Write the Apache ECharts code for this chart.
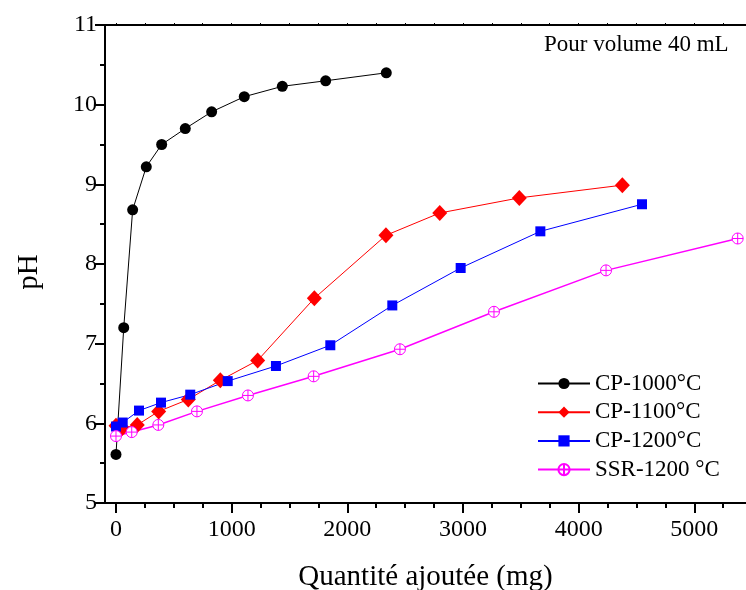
<!DOCTYPE html>
<html>
<head>
<meta charset="utf-8">
<script src="https://cdn.jsdelivr.net/npm/echarts@6/dist/echarts.min.js"></script>
<style>
html,body{margin:0;padding:0;background:#fff;}
#chart{width:746px;height:590px;}
</style>
</head>
<body>
<div id="chart"></div>
<script>
// ---- data ----
const seriesNames = ['CP-1000°C', 'CP-1100°C', 'CP-1200°C', 'SSR-1200 °C'];

const cp1000X = [0, 67, 144, 262, 395, 599, 827, 1109, 1438, 1813, 2337];
const cp1000Y = [5.61, 7.20, 8.68, 9.22, 9.50, 9.70, 9.91, 10.10, 10.23, 10.30, 10.40];

const cp1100X = [0, 55, 184, 369, 625, 902, 1225, 1715, 2334, 2799, 3487, 4378];
const cp1100Y = [5.97, 5.94, 5.98, 6.15, 6.30, 6.54, 6.79, 7.57, 8.36, 8.64, 8.83, 8.99];

const cp1200X = [0, 58, 199, 389, 642, 966, 1383, 1853, 2389, 2980, 3669, 4548];
const cp1200Y = [5.96, 6.01, 6.16, 6.26, 6.36, 6.53, 6.72, 6.98, 7.48, 7.95, 8.41, 8.75];

const ssrX = [0, 136, 366, 700, 1141, 1709, 2455, 3268, 4237, 5375];
const ssrY = [5.84, 5.89, 5.98, 6.15, 6.35, 6.59, 6.93, 7.40, 7.92, 8.32];

const xTickValues = [0, 1000, 2000, 3000, 4000, 5000];
const yTickValues = [5, 6, 7, 8, 9, 10, 11];

const xTitle = 'Quantité ajoutée (mg)';
const yTitle = 'pH';
const noteText = 'Pour volume 40 mL';

// ---- chart ----
const FONT = '"Liberation Serif", "Times New Roman", serif';
const pair = (xs, ys) => xs.map((x, i) => [x, ys[i]]);
const circlePlus = 'path://M-10,0 A10,10 0 1,0 10,0 A10,10 0 1,0 -10,0 Z M0,-10 L0,10 M-10,0 L10,0';

const chart = echarts.init(document.getElementById('chart'), null, {renderer: 'canvas'});
const axisLineStyle = {color: '#000', width: 2};

chart.setOption({
  animation: false,
  backgroundColor: '#fff',
  grid: {left: 105, top: 25, right: 0, bottom: 87, containLabel: false, outerBoundsMode: 'none'},
  xAxis: [{
    type: 'value', position: 'bottom', min: -95, max: 5447, splitNumber: 5,
    axisLine: {show: true, onZero: false, lineStyle: axisLineStyle},
    axisTick: {show: true, inside: false, length: 10, lineStyle: {color: '#000', width: 2}, customValues: xTickValues},
    minorTick: {show: true, splitNumber: 4, length: 5, lineStyle: {color: '#000', width: 2}},
    splitLine: {show: false},
    axisLabel: {customValues: xTickValues, formatter: v => String(v), fontFamily: FONT, fontSize: 24, color: '#000', margin: 15},
    name: xTitle, nameLocation: 'middle', nameGap: 60,
    nameTextStyle: {fontFamily: FONT, fontSize: 29, color: '#000'}
  }, {
    type: 'value', position: 'top', min: -95, max: 5447, splitNumber: 5,
    axisLine: {show: true, onZero: false, lineStyle: axisLineStyle},
    axisTick: {show: true, inside: false, length: 2, lineStyle: {color: '#000', width: 1}, customValues: xTickValues},
    minorTick: {show: true, splitNumber: 4, length: 2, lineStyle: {color: '#000', width: 1}},
    splitLine: {show: false},
    axisLabel: {show: false}
  }],
  yAxis: {
    type: 'value', min: 5, max: 11, interval: 1,
    axisLine: {show: true, onZero: false, lineStyle: axisLineStyle},
    axisTick: {show: true, inside: false, length: 10, lineStyle: {color: '#000', width: 2}},
    minorTick: {show: true, splitNumber: 2, length: 5, lineStyle: {color: '#000', width: 2}},
    splitLine: {show: false},
    axisLabel: {customValues: yTickValues, fontFamily: FONT, fontSize: 24, color: '#000', margin: 8}
  },
  legend: {
    left: 537, top: 372, orient: 'vertical', padding: 0,
    itemWidth: 52, itemHeight: 14, itemGap: 5.7,
    textStyle: {fontFamily: FONT, fontSize: 23, lineHeight: 23, color: '#000'},
    data: seriesNames
  },
  graphic: [
    {type: 'text', left: 544, top: 33, style: {text: noteText, font: '23px ' + FONT, fill: '#000'}},
    {type: 'text', x: 29, y: 272, rotation: Math.PI / 2,
     style: {text: yTitle, font: '29px ' + FONT, fill: '#000', align: 'center', verticalAlign: 'middle'}}
  ],
  series: [
    {name: seriesNames[0], type: 'line', data: pair(cp1000X, cp1000Y),
     symbol: 'circle', symbolSize: 11, color: '#000',
     lineStyle: {width: 1, color: '#000'}, itemStyle: {color: '#000'}},
    {name: seriesNames[1], type: 'line', data: pair(cp1100X, cp1100Y),
     symbol: 'diamond', symbolSize: [15, 16], color: '#ff0000',
     lineStyle: {width: 1, color: '#ff0000'}, itemStyle: {color: '#ff0000'}},
    {name: seriesNames[2], type: 'line', data: pair(cp1200X, cp1200Y),
     symbol: 'rect', symbolSize: 10, color: '#0000ff',
     lineStyle: {width: 1, color: '#0000ff'}, itemStyle: {color: '#0000ff'}},
    {name: seriesNames[3], type: 'line', data: pair(ssrX, ssrY),
     symbol: circlePlus, symbolSize: 11, color: '#ff00ff',
     lineStyle: {width: 1.5, color: '#ff00ff'},
     itemStyle: {color: '#ffffff', borderColor: '#ff00ff', borderWidth: 1}}
  ]
});
</script>
</body>
</html>
